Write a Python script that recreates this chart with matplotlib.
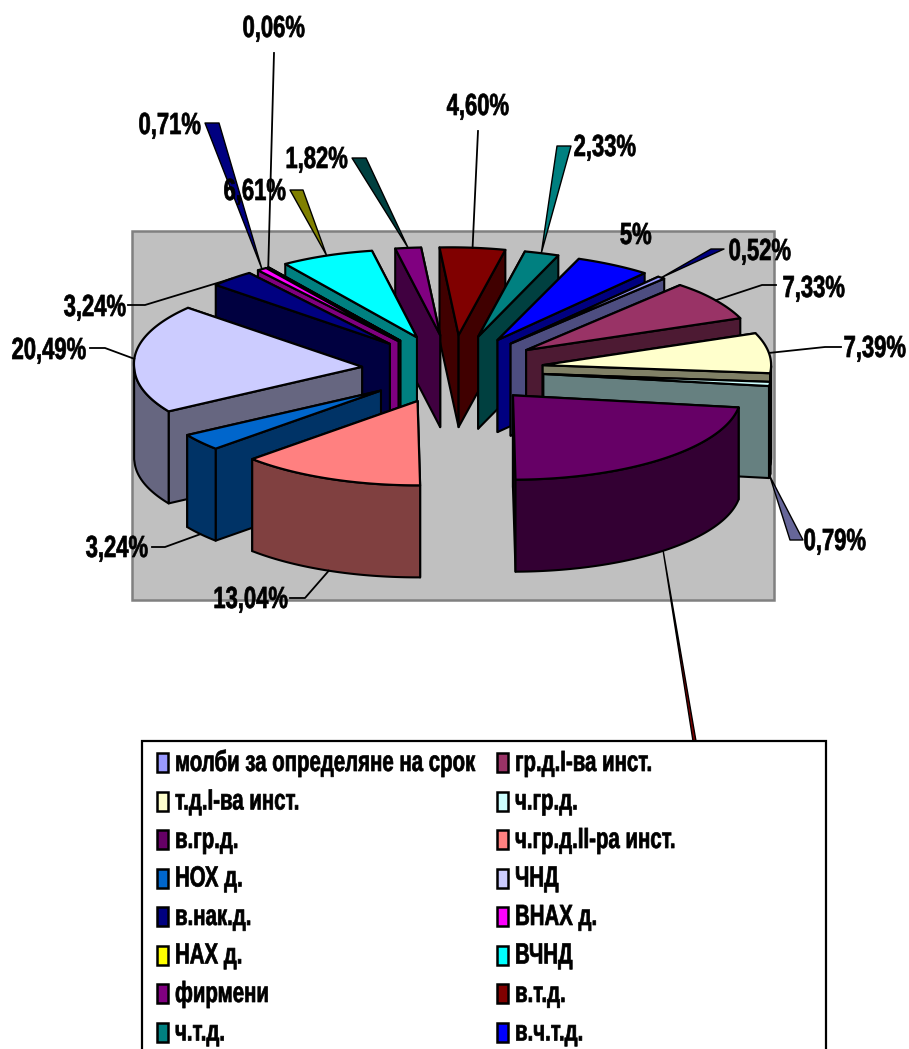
import numpy as np
import matplotlib
matplotlib.use("Agg")
import matplotlib.pyplot as plt
from matplotlib.patches import Polygon, Rectangle
from matplotlib.patheffects import AbstractPathEffect
from matplotlib.transforms import Affine2D

plt.rcParams['font.family'] = ['Liberation Sans', 'DejaVu Sans']
plt.rcParams['font.weight'] = 'bold'

# --- Data (clockwise, series order of the legend) ---
categories = ["молби за определяне на срок", "гр.д.I-ва инст.", "т.д.I-ва инст.", "ч.гр.д.",
              "в.гр.д.", "ч.гр.д.II-ра инст.", "НОХ д.", "ЧНД", "в.нак.д.", "ВНАХ д.",
              "НАХ д.", "ВЧНД", "фирмени", "в.т.д.", "ч.т.д.", "в.ч.т.д."]
values = [0.52, 7.33, 7.39, 0.79, 22.45, 13.04, 3.24, 20.49, 3.24, 0.71, 0.06, 6.61, 1.82, 4.60, 2.33, 5.0]
labels = ["0,52%", "7,33%", "7,39%", "0,79%", "", "13,04%", "3,24%", "20,49%", "3,24%", "0,71%",
          "0,06%", "6,61%", "1,82%", "4,60%", "2,33%", "5%"]
colors = ["#9999FF", "#993366", "#FFFFCC", "#CCFFFF", "#660066", "#FF8080", "#0066CC", "#CCCCFF",
          "#000080", "#FF00FF", "#FFFF00", "#00FFFF", "#800080", "#800000", "#008080", "#0000FF"]

# --- Layout (pixels) ---
W, H = 909, 1049
CX, CY = 453, 370
R = 228
EXPLODE = 91
TILT_FRONT = 0.37
TILT_BACK = 0.385
DEPTH = 92
START = 40.3  # angle of first slice, clockwise from top

# label centre, leader start x0/x1/y, leader colour, leader drawn as wedge, leader from the bottom rim
label_pos = [(760, 252), (814, 289), (875, 349), (835, 542), None, (251, 600), (117, 549), (49, 351),
             (95, 308), (170, 126), (274, 29), (255, 192), (317, 160), (478, 107), (605, 148), (636, 236)]
leader_top = [(711, 724, 249), (776, 762, 285), (841, 825, 347), (790, 803, 540), (693, 696, 741),
              (290, 305, 598), (152, 165, 547), (90, 105, 348), (128, 145, 305), (205, 219, 123),
              (274, 274, 53), (290, 303, 190), (352, 366, 158), (478, 478, 131), (557, 571, 146), None]
leader_col = ["#000080", "#000000", "#000000", "#666699", "#800000", "#000000", "#000000", "#000000",
              "#000000", "#000080", "#000000", "#808000", "#004040", "#000000", "#008080", None]
leader_wedge = [True, False, False, True, True, False, False, False, False, True,
                False, True, True, False, True, False]
leader_bottom = [False, False, False, True, True, True, True, False, False, False,
                 False, False, False, False, False, False]


class Narrow(AbstractPathEffect):
    # squeeze a text sideways, like the condensed font of the original
    def __init__(self, sx, centered=False):
        super().__init__()
        self.sx = sx
        self.centered = centered

    def draw_path(self, renderer, gc, tpath, affine, rgbFace=None):
        shift = tpath.get_extents().width / 2 if self.centered else 0
        squeeze = Affine2D().translate(-shift, 0).scale(self.sx, 1).translate(shift, 0)
        gc0 = renderer.new_gc()
        gc0.copy_properties(gc)
        gc0.set_linewidth(0.5)
        gc0.set_foreground("black")
        renderer.draw_path(gc0, tpath, squeeze + affine, rgbFace)
        gc0.restore()


def rim(phi, r=R, off=EXPLODE, mid=0.0):
    # screen position on the tilted circle of a slice exploded along angle mid
    phi = np.radians(phi)
    mid = np.radians(mid)
    x = CX + off * np.sin(mid) + r * np.sin(phi)
    d = off * np.cos(mid) + r * np.cos(phi)
    y = CY - np.where(d > 0, TILT_BACK, TILT_FRONT) * d
    # back part of the pie leans to the left, fading out towards the right side
    lean = 0.09 * np.minimum(y - CY, 0) * np.clip((700 - x) / 150, 0, 1)
    return x + lean, y


def darker(col):
    rgb = np.array(matplotlib.colors.to_rgb(col))
    return tuple(rgb * 0.5)


fig = plt.figure(figsize=(W / 100, H / 100), dpi=100)
ax = fig.add_axes([0, 0, 1, 1])
ax.set_xlim(0, W)
ax.set_ylim(H, 0)
ax.axis('off')

ax.add_patch(Rectangle((132, 231), 642, 369, fc="#C0C0C0", ec="#808080", lw=1.8, zorder=1))

# --- Slices ---
sweep = np.array(values) / sum(values) * 360
starts = START + np.concatenate([[0], np.cumsum(sweep)[:-1]])
mids = starts + sweep / 2

order = np.argsort([rim(0, 0, EXPLODE, m)[1] for m in mids])
z = 2
for i in order:
    a0, a1, m = starts[i], starts[i] + sweep[i], mids[i]
    ang = np.linspace(a0, a1, max(3, int(sweep[i]) + 2))
    apex = np.array(rim(0, 0, EXPLODE, m), dtype=float)
    px, py = rim(ang, R, EXPLODE, m)
    rim_pts = np.column_stack([px, py])
    down = np.array([0, DEPTH])
    wall = darker(colors[i])

    faces = []
    for p in (rim_pts[0], rim_pts[-1]):
        quad = [apex, p, p + down, apex + down]
        faces.append(((apex[1] + p[1]) / 2, quad))
    # outer wall only where it faces the viewer
    front = ang[(ang % 360 >= 90) & (ang % 360 <= 270)]
    if len(front) > 1:
        fx, fy = rim(front, R, EXPLODE, m)
        arc = np.column_stack([fx, fy])
        faces.append((arc[:, 1].mean(), np.vstack([arc, arc[::-1] + down])))
    for _, pts in sorted(faces, key=lambda f: f[0]):
        ax.add_patch(Polygon(pts, closed=True, fc=wall, ec="black", lw=1.5, joinstyle='round', zorder=z))
        z += 1
    ax.add_patch(Polygon(np.vstack([apex, rim_pts]), closed=True, fc=colors[i], ec="black",
                         lw=1.6, joinstyle='round', zorder=z))
    z += 1

# --- Leaders and data labels ---
z = 200
for i in range(len(values)):
    if leader_top[i] is not None:
        x0, x1, y = leader_top[i]
        tx, ty = rim(mids[i], R, EXPLODE, mids[i])
        if leader_bottom[i]:
            ty = ty + DEPTH
        if leader_wedge[i]:
            ax.add_patch(Polygon([(x0, y), (x1, y), (tx, ty)], closed=True, fc=leader_col[i], ec="black",
                                 lw=1.0, joinstyle='round', zorder=z))
        else:
            ax.plot([x0, x1, tx], [y, y, ty], color=leader_col[i], lw=1.3, zorder=z)
    if label_pos[i] is not None:
        ax.text(label_pos[i][0], label_pos[i][1], labels[i], fontsize=22, ha='center', va='center',
                color="black", zorder=z + 1, path_effects=[Narrow(0.72, centered=True)])

# --- Legend, cut off by the picture edge ---
ax.add_patch(Rectangle((142, 741), 684, 340, fc="white", ec="black", lw=1.6, zorder=300))
for i, name in enumerate(categories):
    row, col = i // 2, i % 2
    y = 762 + row * 38.5
    sx = 157 if col == 0 else 497
    ax.add_patch(Rectangle((sx, y - 9), 11, 19, fc=colors[i], ec="black", lw=1.8, zorder=301))
    ax.text(sx + 18, y + 1, name, fontsize=21, ha='left', va='center', color="black", zorder=301,
            path_effects=[Narrow(0.70)])

fig.savefig("out.png", dpi=100, facecolor="white")
